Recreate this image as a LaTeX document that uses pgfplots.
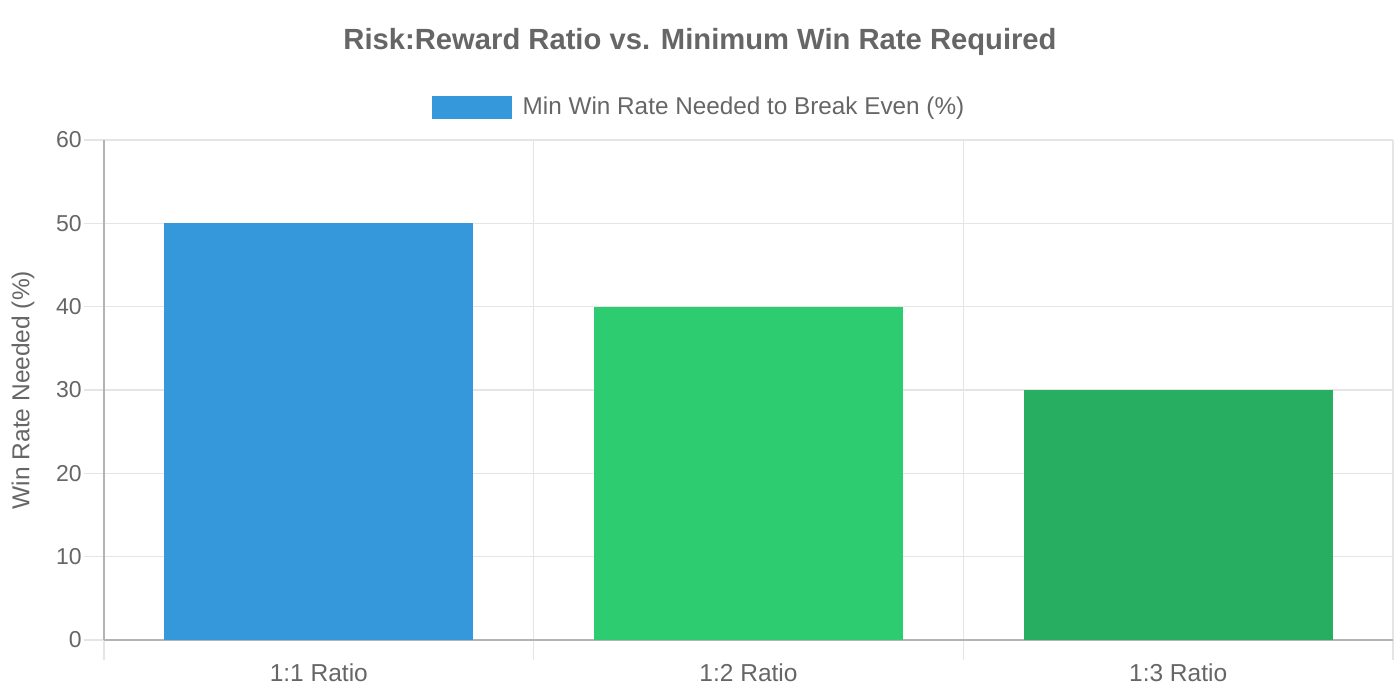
\documentclass[border=0pt]{standalone}
\usepackage{pgfplots}
\pgfplotsset{compat=1.18}
\usepackage{fontspec}
\setmainfont{Liberation Sans}
\definecolor{txt}{HTML}{666666}
\definecolor{gridc}{HTML}{E5E5E5}
\definecolor{axc}{HTML}{B3B3B3}
\definecolor{c1}{HTML}{3498DB}
\definecolor{c2}{HTML}{2ECC71}
\definecolor{c3}{HTML}{27AE60}

\begin{document}
\begin{tikzpicture}
\useasboundingbox (-52pt,-30pt) rectangle (648pt,320pt);
\begin{axis}[
  at={(0,0)}, anchor=south west,
  scale only axis, width=644.5pt, height=250pt,
  xmin=-0.5, xmax=2.5, ymin=0, ymax=60,
  ytick={0,10,...,60},
  xtick={0,1,2},
  xticklabels={1:1 Ratio,1:2 Ratio,1:3 Ratio},
  minor xtick={-0.5,0.5,1.5,2.5},
  ymajorgrids, xminorgrids,
  grid style={gridc, line width=0.8pt},
  minor grid style={gridc, line width=0.8pt},
  axis x line*=bottom, axis y line*=left,
  axis line style={axc, line width=0.9pt},
  tick align=outside,
  major tick length=10pt, minor tick length=10pt,
  tick style={gridc, line width=0.8pt},
  major x tick style={draw=none},
  /pgf/number format/assume math mode=true,
  yticklabel style={font=\fontsize{11.5}{13}\selectfont, text=txt, inner sep=1pt},
  xticklabel style={font=\fontsize{12.25}{14}\selectfont, text=txt, yshift=1.5pt},
  title={Risk:Reward Ratio vs. Minimum Win Rate Required},
  title style={at={([yshift=43pt]axis description cs:0.4624,1)}, anchor=center,
    font=\bfseries\fontsize{14.6}{17}\selectfont, text=txt},
  ylabel={Win Rate Needed (\%)},
  ylabel style={at={([xshift=-40.5pt]axis description cs:0,0.5)}, anchor=center,
    font=\fontsize{12.25}{14}\selectfont, text=txt},
  legend style={at={([yshift=16.25pt]axis description cs:0.4624,1)}, anchor=center,
    draw=none, fill=none, font=\fontsize{12.15}{14}\selectfont, text=txt},
  legend image code/.code={\fill[#1] (0pt,-5.75pt) rectangle (40pt,5.75pt); \path (43.5pt,0pt);},
]
\addplot[ybar, bar width=154.5pt, bar shift=0pt, fill=c1, draw=none] coordinates {(0,50)};
\addlegendentry{Min Win Rate Needed to Break Even (\%)}
\addplot[ybar, bar width=154.5pt, bar shift=0pt, fill=c2, draw=none, forget plot] coordinates {(1,40)};
\addplot[ybar, bar width=154.5pt, bar shift=0pt, fill=c3, draw=none, forget plot] coordinates {(2,30)};
\end{axis}
\end{tikzpicture}
\end{document}
